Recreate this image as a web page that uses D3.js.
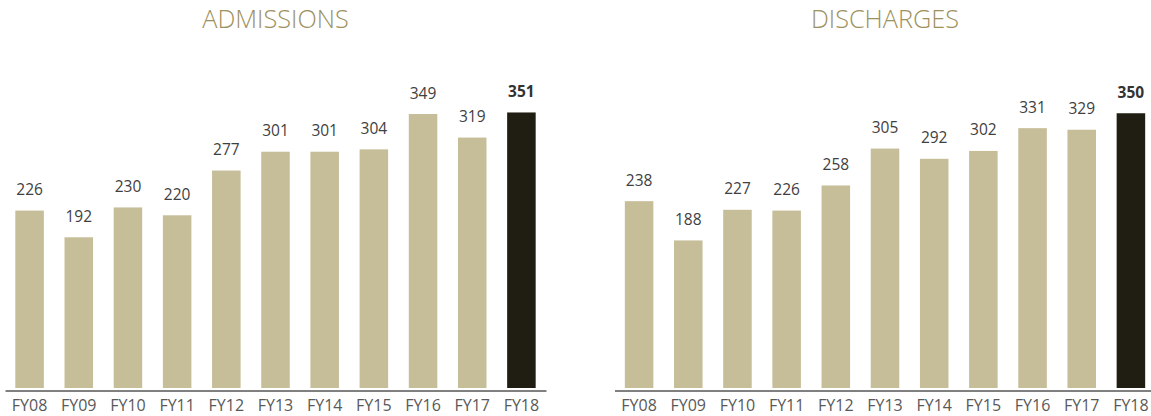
<!DOCTYPE html>
<html>
<head>
<meta charset="utf-8">
<script src="https://cdn.jsdelivr.net/npm/d3@7"></script>
<style>
  html, body { margin: 0; padding: 0; background: #ffffff; }
  svg { display: block; }
</style>
</head>
<body>
<svg id="chart" width="1151" height="416"></svg>
<script>
// Fiscal years shown on both panels
const years = ["FY08", "FY09", "FY10", "FY11", "FY12", "FY13", "FY14", "FY15", "FY16", "FY17", "FY18"];
// Yearly counts
const admissions = [226, 192, 230, 220, 277, 301, 301, 304, 349, 319, 351];
const discharges = [238, 188, 227, 226, 258, 305, 292, 302, 331, 329, 350];
const panelTitles = ["ADMISSIONS", "DISCHARGES"];

const svg = d3.select("#chart");
const font = "'Open Sans', 'DejaVu Sans', sans-serif";

const baseY = 388;
const axisY = 390.5;
const y = d3.scaleLinear().domain([0, 400]).range([baseY, baseY - 314]);

function drawPanel(title, values, x0, x1) {
  const g = svg.append("g");
  const x = d3.scaleBand().domain(years).range([x0, x1]).paddingInner(0.42).paddingOuter(0.21);
  const last = years[years.length - 1];
  const data = years.map((yr, i) => ({ yr, v: values[i] }));

  g.append("text")
    .attr("x", (x0 + x1) / 2)
    .attr("y", 27.5)
    .attr("text-anchor", "middle")
    .attr("font-family", font)
    .attr("font-size", 25.3)
    .attr("font-weight", 300)
    .attr("fill", "#9d9160")
    .text(title);

  g.selectAll("rect.bar").data(data).enter().append("rect")
    .attr("class", "bar")
    .attr("x", d => x(d.yr))
    .attr("width", x.bandwidth())
    .attr("y", d => y(d.v))
    .attr("height", d => y(0) - y(d.v))
    .attr("fill", d => d.yr === last ? "#201d12" : "#c6bd99");

  g.selectAll("text.val").data(data).enter().append("text")
    .attr("class", "val")
    .attr("x", d => x(d.yr) + x.bandwidth() / 2)
    .attr("y", d => y(d.v) - 15.5)
    .attr("text-anchor", "middle")
    .attr("font-family", font)
    .attr("font-size", 15.5)
    .attr("font-weight", d => d.yr === last ? 700 : 400)
    .attr("fill", d => d.yr === last ? "#333333" : "#404040")
    .text(d => d.v);

  const axis = d3.axisBottom(x).tickSize(0).tickPadding(9.5).tickSizeOuter(0);
  const ax = g.append("g").attr("transform", `translate(0,${axisY})`).call(axis);
  ax.select(".domain").attr("stroke", "#808080").attr("stroke-width", 2);
  ax.selectAll("text")
    .attr("font-family", font)
    .attr("font-size", 16)
    .attr("fill", "#595959");
}

drawPanel(panelTitles[0], admissions, 5, 546);
drawPanel(panelTitles[1], discharges, 614.5, 1155.5);
</script>
</body>
</html>
